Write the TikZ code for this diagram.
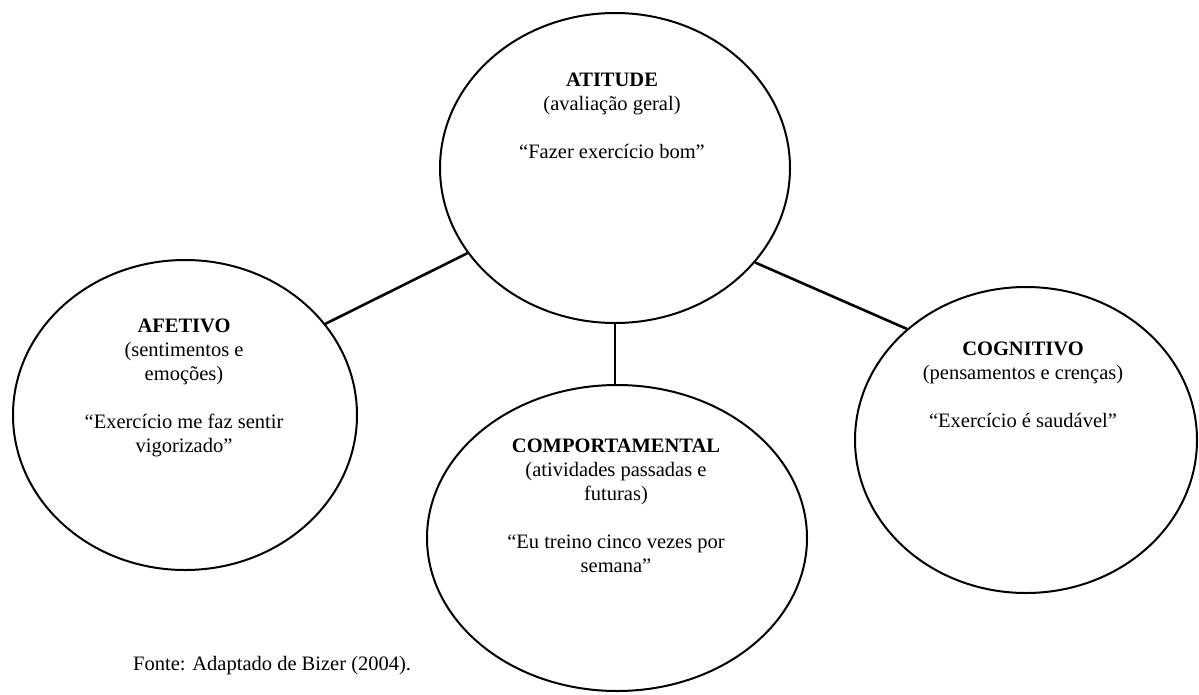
\documentclass[tikz,border=0pt]{standalone}
\usepackage{fontspec}
\setmainfont{Liberation Serif}
\usetikzlibrary{shapes.geometric}
\newcommand{\ctext}[1]{\begin{tabular}[t]{@{}c@{}}#1\end{tabular}}
\tikzset{
  ell/.style={draw=black, ellipse, line width=2pt, inner sep=0pt, fill=white},
  conn/.style={draw=black, line width=2.6pt},
  txt/.style={anchor=base, inner sep=0pt, font=\fontsize{20.5}{24}\selectfont},
}
\begin{document}
\begin{tikzpicture}[x=1pt, y=-1pt]
\useasboundingbox (0,0) rectangle (1199,694);
% ellipses
\node[ell, minimum width=350pt, minimum height=310pt] (att) at (615,168) {};
\node[ell, minimum width=344pt, minimum height=310pt] (afe) at (185,415) {};
\node[ell, minimum width=380pt, minimum height=306pt] (com) at (617,538) {};
\node[ell, minimum width=342pt, minimum height=306pt] (cog) at (1026,440) {};
% connectors
\draw[conn] (att.210.6) -- (afe.33.1);
\draw[conn] (att.326.9) -- (cog.137.9);
\draw[conn] (att.south) -- (att.south |- com.north);
% texts
\node[txt] (tatt) at (612,86) {\ctext{\textbf{ATITUDE}\\(avaliação geral)\\[24pt]“Fazer exercício bom”}};
\node[txt] (tafe) at (184,332) {\ctext{\textbf{AFETIVO}\\(sentimentos e\\emoções)\\[24pt]“Exercício me faz sentir\\vigorizado”}};
\node[txt] (tcom) at (616,452) {\ctext{\textbf{COMPORTAMENTAL}\\(atividades passadas e\\futuras)\\[24pt]“Eu treino cinco vezes por\\semana”}};
\node[txt] (tcog) at (1023,355) {\ctext{\textbf{COGNITIVO}\\(pensamentos e crenças)\\[24pt]“Exercício é saudável”}};
\node[txt, anchor=base west] (fonte) at (133,670) {Fonte: Adaptado de Bizer (2004).};
\end{tikzpicture}
\end{document}
